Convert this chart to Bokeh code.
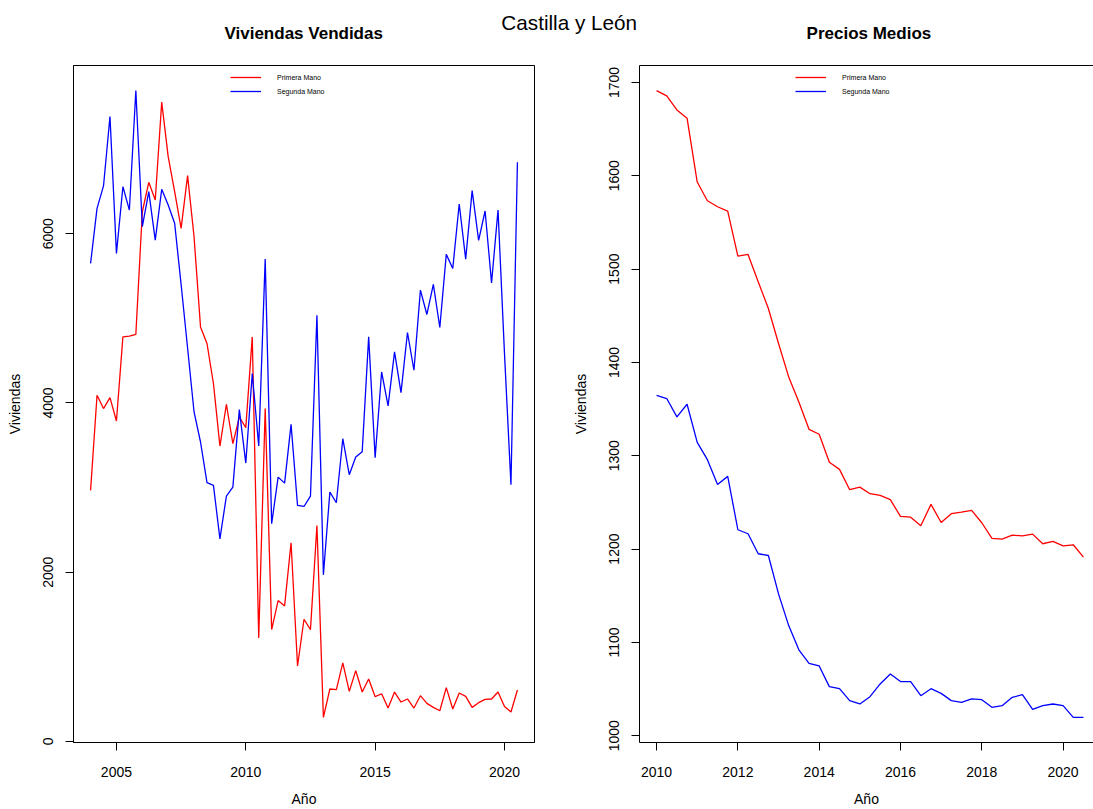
import numpy as np
from bokeh.plotting import figure
from bokeh.layouts import column, row
from bokeh.models import Range1d, FixedTicker, LinearAxis
from bokeh.core.properties import value
from bokeh.embed import file_html
from bokeh.resources import INLINE

# ---------------- data ----------------
titulo = "Castilla y León"
titulo_izq = "Viviendas Vendidas"
titulo_der = "Precios Medios"
series = ["Primera Mano", "Segunda Mano"]

inicio_ventas = 2004.0
ventas_primera = [2967, 4091, 3934, 4064, 3787, 4781, 4790, 4810, 6260, 6608,
                  6399, 7555, 6911, 6497, 6063, 6687, 5964, 4899, 4703, 4229,
                  3491, 3985, 3519, 3834, 3709, 4781, 1224, 3934, 1322, 1665,
                  1602, 2348, 892, 1444, 1322, 2553, 284, 620, 612, 928,
                  592, 837, 584, 738, 529, 564, 395, 584, 466, 502,
                  395, 541, 450, 403, 363, 636, 383, 573, 533, 403,
                  458, 497, 502, 584, 414, 348, 608]
ventas_segunda = [5650, 6300, 6565, 7385, 5768, 6556, 6280, 7692, 6083, 6497,
                  5925, 6525, 6340, 6123, 5400, 4650, 3894, 3539, 3058, 3026,
                  2395, 2900, 3006, 3922, 3290, 4348, 3491, 5700, 2573, 3124,
                  3053, 3748, 2789, 2777, 2900, 5038, 1969, 2947, 2821, 3578,
                  3152, 3361, 3425, 4781, 3354, 4367, 3965, 4604, 4123, 4833,
                  4387, 5334, 5046, 5401, 4892, 5756, 5590, 6351, 5700, 6509,
                  5922, 6269, 5420, 6280, 4583, 3034, 6844]

inicio_precios = 2010.0
precio_primera = [1691.3, 1685.6, 1670.6, 1661.7, 1593.3, 1573.3, 1566.8, 1562.2, 1513.9, 1515.7,
                  1486.4, 1457.8, 1420.3, 1384.5, 1357.6, 1328.3, 1323.0, 1293.0, 1285.4, 1263.6,
                  1266.4, 1259.3, 1257.5, 1252.9, 1235.0, 1234.2, 1225.0, 1247.9, 1228.5, 1237.9,
                  1239.6, 1241.4, 1228.2, 1211.4, 1210.6, 1214.9, 1214.2, 1216.0, 1205.7, 1208.2,
                  1203.5, 1204.6, 1191.3]
precio_segunda = [1364.8, 1361.3, 1341.6, 1355.2, 1314.4, 1295.8, 1269.3, 1277.9, 1220.7, 1216.4,
                  1195.0, 1193.1, 1152.0, 1118.0, 1092.0, 1077.6, 1074.8, 1052.6, 1050.5, 1037.6,
                  1034.0, 1041.8, 1055.5, 1066.2, 1058.0, 1058.0, 1042.9, 1050.4, 1045.4, 1037.6,
                  1035.7, 1039.4, 1038.6, 1030.4, 1032.2, 1041.1, 1044.0, 1028.2, 1032.2, 1034.0,
                  1032.2, 1019.6, 1019.6]

xticks_izq = [2005, 2010, 2015, 2020]
yticks_izq = [0, 2000, 4000, 6000]
xticks_der = [2010, 2012, 2014, 2016, 2018, 2020]
yticks_der = [1000, 1100, 1200, 1300, 1400, 1500, 1600, 1700]
xlabel = "Año"
ylabel = "Viviendas"

# ---------------- styling ----------------
FONT = "Liberation Sans"
RED = "#FF0000"
BLUE = "#0000FF"


def r_range(lo, hi):
    pad = 0.04 * (hi - lo)
    return lo - pad, hi + pad


t_v = inicio_ventas + np.arange(len(ventas_primera)) / 4.0
t_p = inicio_precios + np.arange(len(precio_primera)) / 4.0

TOP_H = 46
W1, W2, H = 553, 540, 763
FRAME_W = 461   # width of an R plot frame
FRAME_H = 677
BT, BB = 19, 67


def style(p, xticks, yticks, legend_loc, outline=True):
    p.xgrid.visible = False
    p.ygrid.visible = False
    p.outline_line_color = "black" if outline else None
    p.outline_line_width = 1
    p.background_fill_color = "white"
    p.border_fill_color = "white"
    p.xaxis.ticker = FixedTicker(ticks=xticks)
    p.yaxis.ticker = FixedTicker(ticks=yticks)
    for ax in (p.xaxis[0], p.yaxis[0]):
        ax.axis_line_color = "black"
        ax.axis_line_width = 1
        ax.major_tick_line_color = "black"
        ax.major_tick_out = 8
        ax.major_tick_in = 0
        ax.minor_tick_out = 0
        ax.minor_tick_in = 0
        ax.major_label_text_font = FONT
        ax.major_label_text_font_size = "14px"
        ax.major_label_text_color = "black"
        ax.axis_label_text_font = FONT
        ax.axis_label_text_font_size = "14px"
        ax.axis_label_text_font_style = "normal"
        ax.axis_label_text_color = "black"
    p.xaxis.axis_label = xlabel
    p.yaxis.axis_label = ylabel
    p.xaxis.major_label_standoff = 16
    p.xaxis.axis_label_standoff = 11
    p.yaxis.major_label_orientation = "vertical"
    p.yaxis.major_label_standoff = 12
    p.yaxis.axis_label_standoff = 18
    lg = p.legend[0]
    lg.location = legend_loc
    lg.glyph_width = 31
    lg.glyph_height = 14
    lg.label_height = 14
    lg.label_width = 10
    lg.label_standoff = 16
    lg.spacing = 0
    lg.padding = 0
    lg.margin = 0
    lg.border_line_color = None
    lg.background_fill_alpha = 0
    lg.label_text_font = FONT
    lg.label_text_font_size = "7px"
    lg.label_text_color = "black"


# ---------------- left panel ----------------
ylo, yhi = r_range(min(min(ventas_primera), min(ventas_segunda)),
                   max(max(ventas_primera), max(ventas_segunda)))
xlo, xhi = r_range(t_v[0], t_v[-1])
p1 = figure(width=W1, height=H, x_range=Range1d(xlo, xhi), y_range=Range1d(ylo, yhi),
            output_backend="svg", toolbar_location=None,
            min_border_left=73, min_border_right=W1 - 73 - FRAME_W,
            min_border_top=BT, min_border_bottom=BB)
p1.line(t_v, ventas_primera, color=RED, line_width=1.3, legend_label=series[0])
p1.line(t_v, ventas_segunda, color=BLUE, line_width=1.3, legend_label=series[1])
style(p1, xticks_izq, yticks_izq, (157, 644))

# ---------------- right panel ----------------
ylo2, yhi2 = r_range(min(min(precio_primera), min(precio_segunda)),
                     max(max(precio_primera), max(precio_segunda)))
xlo2, xhi2 = r_range(t_p[0], t_p[-1])
BL2 = 639 - W1
fw2 = W2 - BL2
xhi2_cut = xlo2 + (xhi2 - xlo2) * fw2 / FRAME_W  # the reference box runs past the page edge
p2 = figure(width=W2, height=H, x_range=Range1d(xlo2, xhi2_cut), y_range=Range1d(ylo2, yhi2),
            output_backend="svg", toolbar_location=None,
            min_border_left=BL2, min_border_right=0,
            min_border_top=BT, min_border_bottom=BB)
p2.line(t_p, precio_primera, color=RED, line_width=1.3, legend_label=series[0])
p2.line(t_p, precio_segunda, color=BLUE, line_width=1.3, legend_label=series[1])
style(p2, xticks_der, yticks_der, (156, 644), outline=False)
top_ax = LinearAxis(ticker=FixedTicker(ticks=[]), major_tick_out=0, major_tick_in=0,
                    minor_tick_out=0, minor_tick_in=0, major_label_text_font_size="0px",
                    axis_line_color="black", axis_line_width=1)
p2.add_layout(top_ax, "above")

# ---------------- titles strip ----------------
top = figure(width=W1 + W2, height=TOP_H, x_range=Range1d(0, W1 + W2), y_range=Range1d(TOP_H, 0),
             output_backend="svg", toolbar_location=None, min_border=0,
             x_axis_location=None, y_axis_location=None)
top.xgrid.visible = False
top.ygrid.visible = False
top.outline_line_color = None
top.text(x=[568.7], y=[21.7], text=[titulo], text_font=value(FONT), text_font_size="20.7px",
         text_align="center", text_baseline="middle", text_color="black")
top.text(x=[303.2, 868.4], y=[32.5, 32.5], text=[titulo_izq, titulo_der], text_font=value(FONT),
         text_font_size="17px", text_font_style="bold",
         text_align="center", text_baseline="middle", text_color="black")

layout = column(top, row(p1, p2, spacing=0), spacing=0)
open("out.html", "w").write(file_html(layout, INLINE))
